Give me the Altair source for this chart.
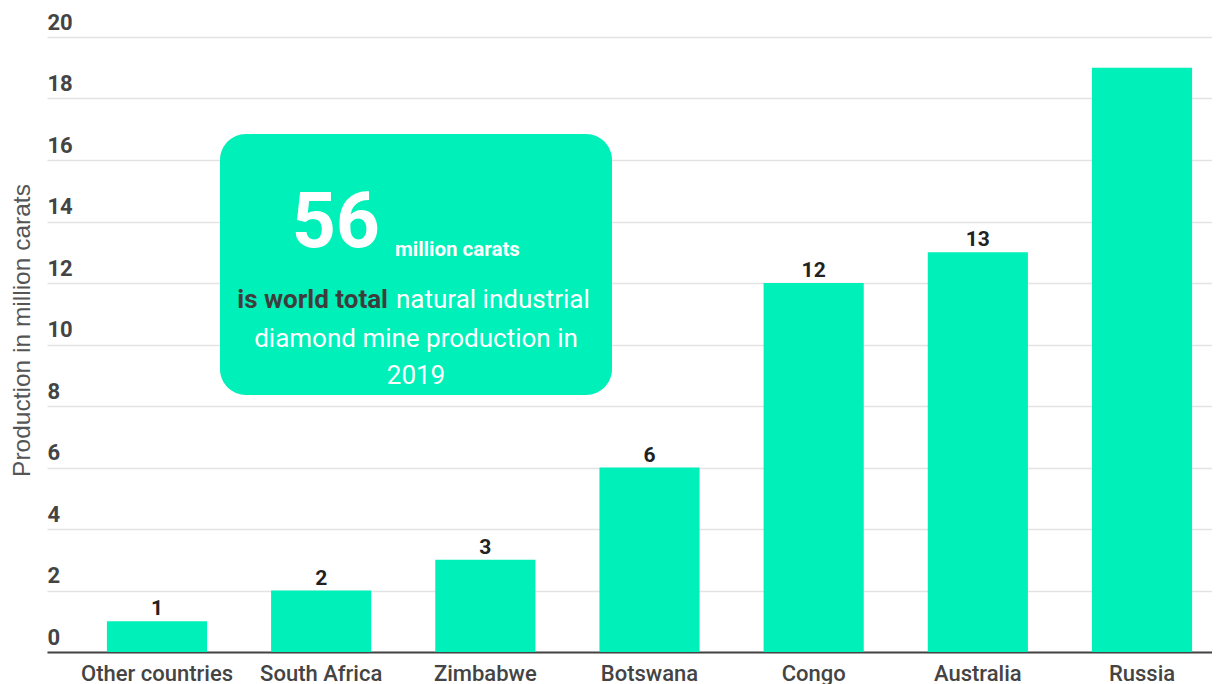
import altair as alt
import pandas as pd

# ---- data ----
countries = ["Other countries", "South Africa", "Zimbabwe", "Botswana", "Congo", "Australia", "Russia"]
production = [1, 2, 3, 6, 12, 13, 19]
bar_labels = ["1", "2", "3", "6", "12", "13", ""]
y_ticks = [0, 2, 4, 6, 8, 10, 12, 14, 16, 18, 20]

big_number = "56"
unit_text = "million carats"
line1_bold = "is world total"
line1_rest = "natural industrial"
line2 = "diamond mine production in"
line3 = "2019"

BAR = "#00F0B9"
FONT = "Roboto"

df = pd.DataFrame({"country": countries, "production": production, "label": bar_labels})
one = pd.DataFrame({"a": [0]})

x_enc = alt.X(
    "country:N",
    sort=countries,
    scale=alt.Scale(range=[0, 1205], paddingInner=0.39, paddingOuter=0.365),
    axis=alt.Axis(
        title=None, labelAngle=0, ticks=False, tickSize=0,
        domainColor="#444444", domainWidth=2,
        labelFontSize=22, labelFontWeight=500, labelColor="#444444",
        labelPadding=11, labelFont=FONT, grid=False,
    ),
)
y_enc = alt.Y(
    "production:Q",
    scale=alt.Scale(domain=[0, 20], nice=False),
    axis=alt.Axis(
        values=y_ticks, title="Production in million carats",
        domain=False, ticks=False, tickSize=0,
        labelAlign="left", labelBaseline="alphabetic", labelOffset=-8, labelPadding=0,
        labelFontSize=22, labelFontWeight="bold", labelColor="#444444", labelFont=FONT,
        gridColor="#e3e3e3", gridWidth=1.5,
        titleX=-25, titleY=293, titleAngle=270, titleAlign="center", titleBaseline="middle",
        titleFontSize=24.5, titleFontWeight="normal", titleColor="#555555",
        titleFont="Liberation Sans",
    ),
)

bars = alt.Chart(df).mark_bar(color=BAR).encode(x=x_enc, y=y_enc)
labels = alt.Chart(df).mark_text(
    dy=-6, baseline="alphabetic", fontSize=21, fontWeight="bold", color="#222222", font=FONT
).encode(x=alt.X("country:N", sort=countries), y="production:Q", text="label:N")

box = alt.Chart(one).mark_rect(color=BAR, cornerRadius=26).encode(
    x=alt.value(173), x2=alt.value(565), y=alt.value(97), y2=alt.value(358)
)


def txt(s, x, y, size, weight, color, align):
    return alt.Chart(one).mark_text(
        text=s, fontSize=size, fontWeight=weight, color=color, align=align,
        baseline="alphabetic", font=FONT,
    ).encode(x=alt.value(x), y=alt.value(y))


t56 = txt(big_number, 333, 210, 77, "bold", "white", "right")
tunit = txt(unit_text, 348, 219, 20.5, "bold", "white", "left")
tl1a = txt(line1_bold, 341, 271, 26, "bold", "#3d3d3d", "right")
tl1b = txt(line1_rest, 349, 271, 26, "normal", "white", "left")
tl2 = txt(line2, 369, 310, 26, "normal", "white", "center")
tl3 = txt(line3, 369, 347, 26, "normal", "white", "center")

chart = alt.layer(bars, labels, box, t56, tunit, tl1a, tl1b, tl2, tl3).properties(
    width=1165, height=615,
    autosize=alt.AutoSizeParams(type="none"),
    padding={"left": 39, "top": 29, "right": 0, "bottom": 32},
    background="white",
).configure_view(stroke=None)

chart.save("out.html", embed_options={"renderer": "svg", "actions": False})
